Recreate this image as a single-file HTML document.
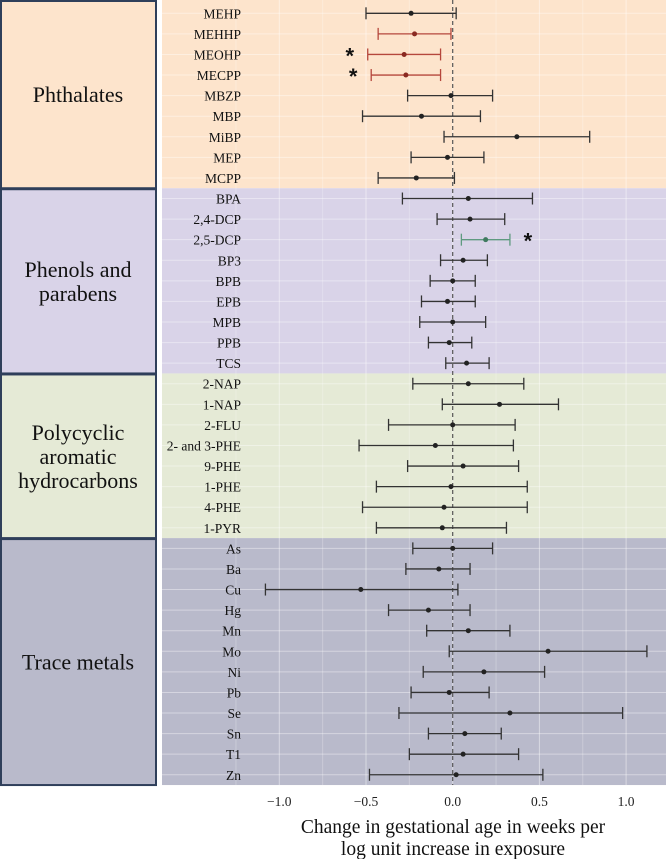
<!DOCTYPE html>
<html><head><meta charset="utf-8"><style>
body{margin:0;background:#fff;}
svg{display:block;font-family:"Liberation Serif",serif;}
</style></head><body>
<svg id="chart" width="666" height="859" viewBox="0 0 666 859"></svg>
<script>
const labels=["MEHP","MEHHP","MEOHP","MECPP","MBZP","MBP","MiBP","MEP","MCPP",
"BPA","2,4-DCP","2,5-DCP","BP3","BPB","EPB","MPB","PPB","TCS",
"2-NAP","1-NAP","2-FLU","2- and 3-PHE","9-PHE","1-PHE","4-PHE","1-PYR",
"As","Ba","Cu","Hg","Mn","Mo","Ni","Pb","Se","Sn","T1","Zn"];
const estimates=[-0.24,-0.22,-0.28,-0.27,-0.01,-0.18,0.37,-0.03,-0.21,
0.09,0.10,0.19,0.06,0,-0.03,0,-0.02,0.08,
0.09,0.27,0,-0.10,0.06,-0.01,-0.05,-0.06,
0,-0.08,-0.53,-0.14,0.09,0.55,0.18,-0.02,0.33,0.07,0.06,0.02];
const lower=[-0.50,-0.43,-0.49,-0.47,-0.26,-0.52,-0.05,-0.24,-0.43,
-0.29,-0.09,0.05,-0.07,-0.13,-0.18,-0.19,-0.14,-0.04,
-0.23,-0.06,-0.37,-0.54,-0.26,-0.44,-0.52,-0.44,
-0.23,-0.27,-1.08,-0.37,-0.15,-0.02,-0.17,-0.24,-0.31,-0.14,-0.25,-0.48];
const upper=[0.02,-0.01,-0.07,-0.07,0.23,0.16,0.79,0.18,0.01,
0.46,0.30,0.33,0.20,0.13,0.13,0.19,0.11,0.21,
0.41,0.61,0.36,0.35,0.38,0.43,0.43,0.31,
0.23,0.10,0.03,0.10,0.33,1.12,0.53,0.21,0.98,0.28,0.38,0.52];
const significance=["","neg","neg*","neg*","","","","","","","","pos*","","","","","","","","","","","","","","","","","","","","","","","","","",""];
const groups=["Phthalates","Phenols and parabens","Polycyclic aromatic hydrocarbons","Trace metals"];
const groupSizes=[9,9,8,12];
const groupLines=[["Phthalates"],["Phenols and","parabens"],["Polycyclic","aromatic","hydrocarbons"],["Trace metals"]];
const ticks=[-1.0,-0.5,0.0,0.5,1.0];
const tickLabels=["\u22121.0","\u22120.5","0.0","0.5","1.0"];

const NS="http://www.w3.org/2000/svg";
const svg=document.getElementById('chart');
function mk(tag,attrs,parent){const e=document.createElementNS(NS,tag);for(const k in attrs)e.setAttribute(k,attrs[k]);(parent||svg).appendChild(e);return e;}
const X0=452.7,SX=173.4,PL=162,PR=666;
const xs=v=>X0+v*SX;
const ys=i=>13.3+i*20.58;
const fills=["#fde4cc","#d9d3e8","#e5ead6","#b9bacb"];
let start=0;
const bounds=[];
groupSizes.forEach((n,g)=>{
  const top=g===0?0:ys(start-0.5);
  const bot=ys(start+n-0.5);
  bounds.push([top,bot]);
  let r=mk('rect',{x:PL,y:top,width:PR-PL,height:bot-top,fill:fills[g]});
  
  
  let b=mk('rect',{x:1,y:top+1,width:155,height:bot-top-1,fill:fills[g],stroke:'#2f3f5a','stroke-width':2});
  
  
  const L=groupLines[g];const cy=(top+bot)/2;
  L.forEach((ln,k)=>{
    let t=mk('text',{x:78,y:cy+(k-(L.length-1)/2)*24+8,'text-anchor':'middle','font-size':22,fill:'#111'});
    t.textContent=ln;
    
    
  });
  start+=n;
});
const bottom=bounds[3][1];
for(let v=-1.25;v<=1.26;v+=0.25){
  const x=xs(v);if(x<PL||x>PR)continue;
  let g=mk('line',{x1:x,x2:x,y1:0,y2:bottom,stroke:'#ffffff','stroke-opacity':Math.abs(v*2-Math.round(v*2))<0.01?0.45:0.25,'stroke-width':1});
  
  
}
labels.forEach((l,i)=>{
  let g=mk('line',{x1:PL,x2:PR,y1:ys(i),y2:ys(i),stroke:'#ffffff','stroke-opacity':0.4,'stroke-width':1});
  
  
});
let z=mk('line',{x1:xs(0),x2:xs(0),y1:0,y2:bottom,stroke:'#555','stroke-width':1.2,'stroke-dasharray':'4,3'});


labels.forEach((l,i)=>{
  const y=ys(i);
  let t=mk('text',{x:241,y:y+5,'text-anchor':'end','font-size':13.5,fill:'#111'});
  t.textContent=l;
  
  
  const s=significance[i];
  const col=s.startsWith('neg')?'#b5473c':(s.startsWith('pos')?'#5f9a80':'#333');
  const g=mk('g',{stroke:col,'stroke-width':1.3});
  
  
  mk('line',{x1:xs(lower[i]),x2:xs(upper[i]),y1:y,y2:y},g);
  mk('line',{x1:xs(lower[i]),x2:xs(lower[i]),y1:y-6,y2:y+6},g);
  mk('line',{x1:xs(upper[i]),x2:xs(upper[i]),y1:y-6,y2:y+6},g);
  let c=mk('circle',{cx:xs(estimates[i]),cy:y,r:2.5,fill:s?(s.startsWith('neg')?'#8a2a22':'#3f7a5f'):'#222'});
  
  
  if(s.endsWith('*')){
    const ax=s.startsWith('neg')?xs(lower[i])-18:xs(upper[i])+18;
    let a=mk('text',{x:ax,y:y+9,'text-anchor':'middle','font-size':22,'font-weight':'bold',fill:'#111','font-family':'Liberation Sans, sans-serif'});
    a.textContent='*';
    
    
  }
});
ticks.forEach((v,k)=>{
  let t=mk('text',{x:xs(v),y:806,'text-anchor':'middle','font-size':13.5,fill:'#222'});
  t.textContent=tickLabels[k];
  
  
});
["Change in gestational age in weeks per","log unit increase in exposure"].forEach((s,k)=>{
  let t=mk('text',{x:453,y:833+k*22,'text-anchor':'middle','font-size':19.5,fill:'#111'});
  t.textContent=s;
  
  
});
</script>
</body></html>
